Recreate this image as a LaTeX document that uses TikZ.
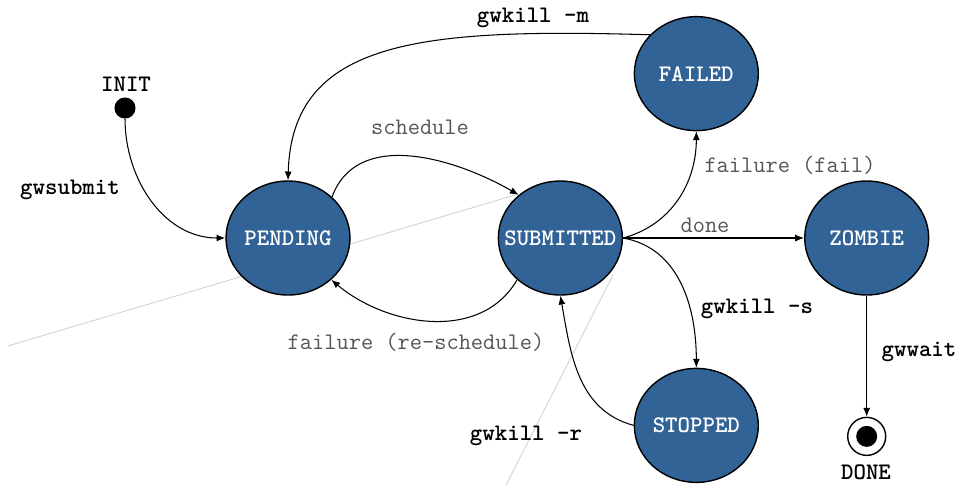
\documentclass[tikz,border=0pt]{standalone}
\usepackage{tikz}
\usetikzlibrary{positioning, arrows.meta, shapes.geometric}
\definecolor{stateblue}{RGB}{50,99,150}
\definecolor{labelgray}{RGB}{85,85,85}
\definecolor{fadegray}{RGB}{210,210,210}
\newcommand{\stname}[1]{\makebox[0pt][c]{#1}}

\begin{document}
\begin{tikzpicture}[
  x=0.02cm, y=-0.02cm,
  state/.style={draw, ellipse, fill=stateblue, text=white, line width=0.8pt,
    font=\ttfamily\bfseries\fontsize{13.5}{15}\selectfont,
    minimum width=2.48cm, minimum height=2.28cm, inner sep=0pt},
  startdot/.style={draw, circle, fill=black, minimum size=0.4cm, inner sep=0pt},
  enddot/.style={draw, circle, minimum size=0.76cm, inner sep=0pt, line width=0.8pt,
    path picture={\fill[black] (path picture bounding box.center) circle (0.21cm);}},
  cmd/.style={font=\ttfamily\bfseries\fontsize{13.5}{15}\selectfont, inner sep=1pt},
  event/.style={font=\ttfamily\fontsize{13.5}{15}\selectfont, text=labelgray, inner sep=1pt},
  semithick, ->, >={Latex[length=5pt, width=4pt]}
]
\useasboundingbox (0,0) rectangle (959,485);

% faint guide lines in the background
\draw[-, fadegray, line width=0.5pt] (8,346) -- (515,195);
\draw[-, fadegray, line width=0.5pt] (613,275) -- (506,485);

% States
\node[state] (pending) at (288,238) {\stname{PENDING}};
\node[state, right=2.94cm of pending] (submitted) {\stname{SUBMITTED}};
\node[state, right=3.62cm of submitted] (zombie) {\stname{ZOMBIE}};
\node[state, above=0.98cm of submitted, xshift=2.72cm] (failed) {\stname{FAILED}};
\node[state, below=1.44cm of submitted, xshift=2.72cm] (stopped) {\stname{STOPPED}};
\node[startdot] (init) at (125,108) {};
\node[enddot, below=2.42cm of zombie] (done) {};

\node[cmd] (initlabel) at (126,84) {INIT};
\node[cmd] (donelabel) at (866,472) {DONE};

% Transition labels
\node[cmd] (gwsubmit) at (70,190) {gwsubmit};
\node[cmd] (gwkillm) at (533,18) {gwkill -m};
\node[event] (schedule) at (420,127) {schedule};
\node[event] (reschedule) at (416,342) {failure (re-schedule)};
\node[event] (fail) at (790,165) {failure (fail)};
\node[event] (donelbl) at (705,225) {done};
\node[cmd] (gwkills) at (757,309) {gwkill -s};
\node[cmd] (gwkillr) at (526,436) {gwkill -r};
\node[cmd] (gwwait) at (919,352) {gwwait};

% Transitions
\draw (init) to[out=-90, in=180] (pending.west);
\draw (failed.140) .. controls (420,28) and (292,40) .. (pending.north);
\draw (pending.43) to[out=70, in=150] (submitted.134);
\draw (submitted.224) to[out=240, in=-40] (pending.-44);
\draw (submitted.east) to[out=15, in=-90] (failed.south);
\draw (submitted.east) -- (zombie.west);
\draw (submitted.east) to[out=-10, in=90] (stopped.north);
\draw (stopped.west) to[out=165, in=-80] (submitted.south);
\draw (zombie.south) -- (done.north);

\end{tikzpicture}
\end{document}
